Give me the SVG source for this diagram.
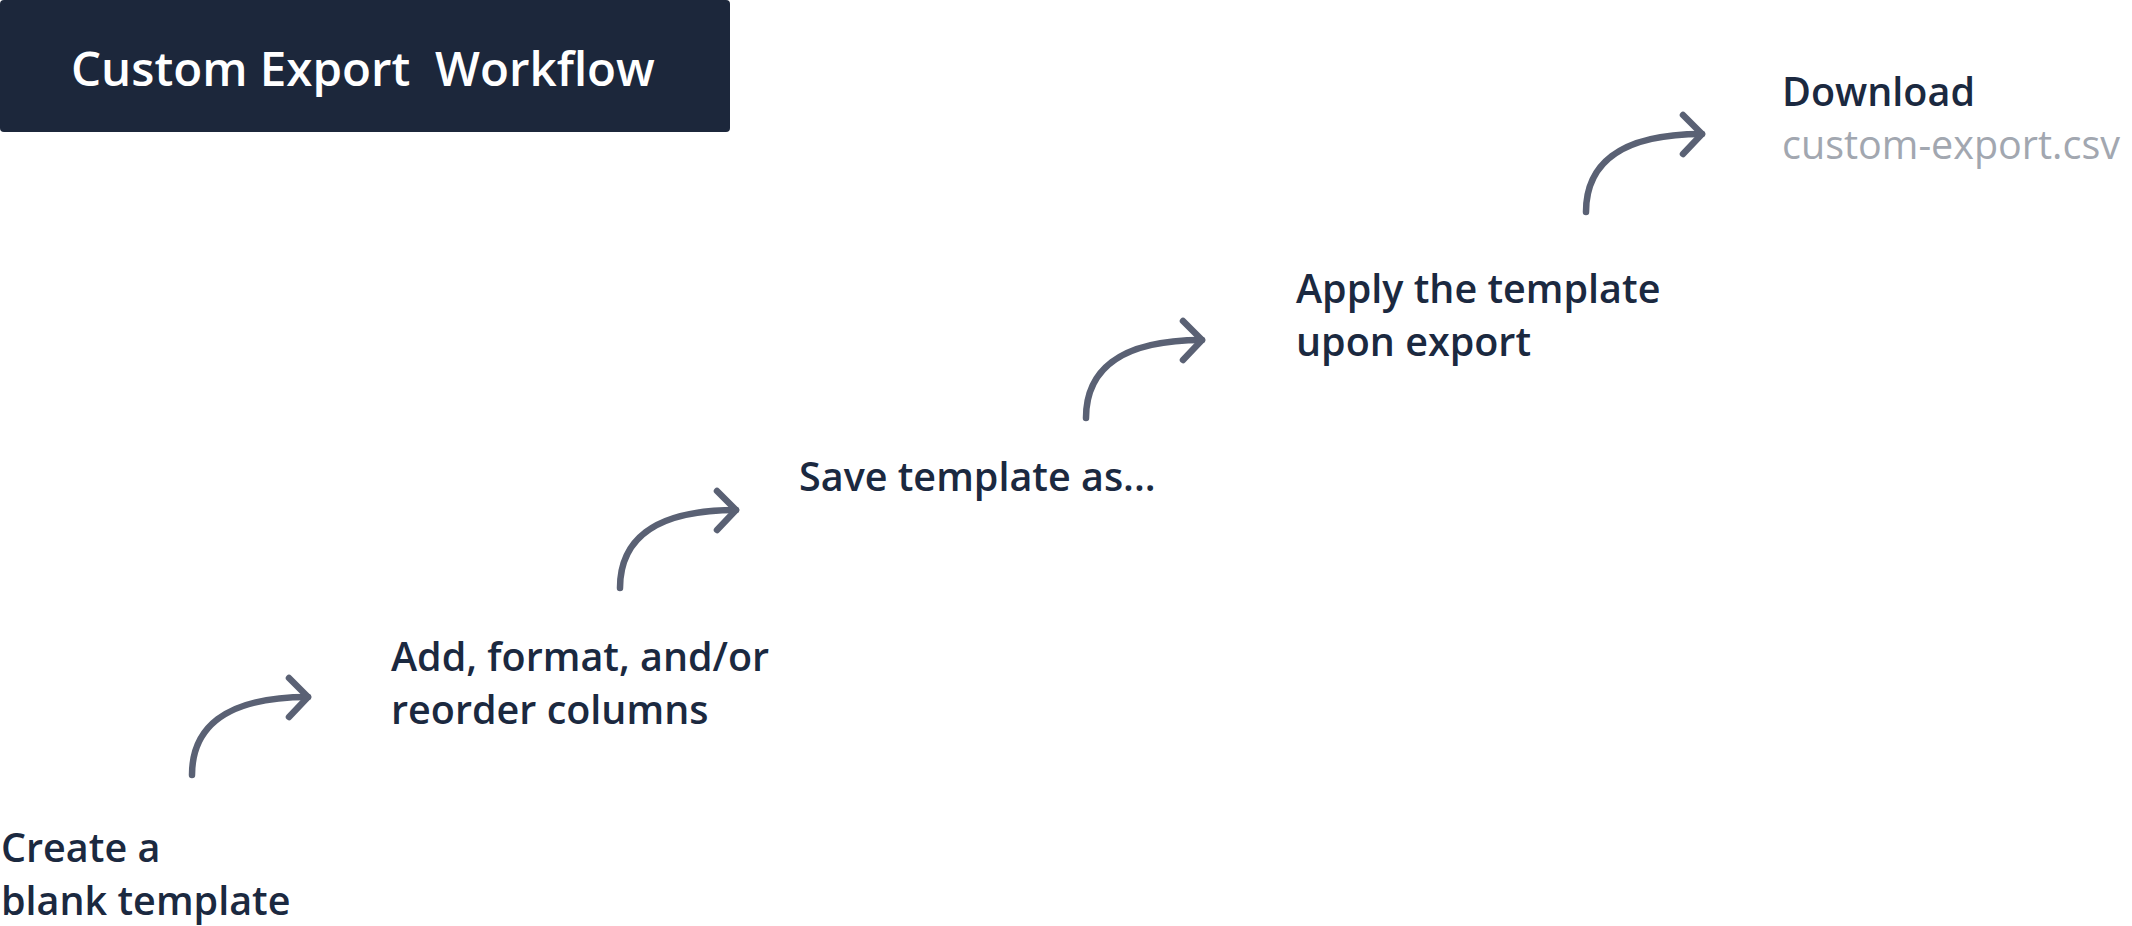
<svg xmlns="http://www.w3.org/2000/svg" width="2132" height="926" viewBox="0 0 2132 926">
  <style>
    .label { font-family: "Open Sans", "Noto Sans", "Liberation Sans", sans-serif; font-size: 39.5px; font-weight: 600; fill: #1b2940; }
    .muted { font-weight: 500; fill: #a2a7b0; }
    .title { font-family: "Open Sans", "Noto Sans", "Liberation Sans", sans-serif; font-size: 47.5px; font-weight: 600; fill: #ffffff; }
    .arrow { fill: none; stroke: #5a6174; stroke-width: 6.5; stroke-linecap: round; stroke-linejoin: round; }
  </style>
  <defs>
    <!-- curved step arrow, origin at the tail -->
    <g id="step-arrow">
      <path class="arrow" d="M0,0 C0,-45 30,-78 116,-78"/>
      <path class="arrow" d="M97,-97 L116,-78 L97,-58"/>
    </g>
  </defs>
  <rect width="2132" height="926" fill="#ffffff"/>

  <g id="title">
    <rect x="0" y="0" width="730" height="132" rx="4" fill="#1c273b"/>
    <text class="title" x="71" y="86" xml:space="preserve">Custom Export  Workflow</text>
  </g>

  <g id="connectors">
    <use href="#step-arrow" x="192" y="775"/>
    <use href="#step-arrow" x="620" y="588"/>
    <use href="#step-arrow" x="1086" y="418"/>
    <use href="#step-arrow" x="1586" y="212"/>
  </g>

  <g id="step-create">
    <text class="label" x="1" y="862">Create a</text>
    <text class="label" x="1" y="915">blank template</text>
  </g>
  <g id="step-columns">
    <text class="label" x="391" y="671">Add, format, and/or</text>
    <text class="label" x="391" y="724">reorder columns</text>
  </g>
  <g id="step-save">
    <text class="label" x="799" y="491">Save template as...</text>
  </g>
  <g id="step-apply">
    <text class="label" x="1296" y="303">Apply the template</text>
    <text class="label" x="1296" y="356">upon export</text>
  </g>
  <g id="step-download">
    <text class="label" x="1782" y="106">Download</text>
    <text class="label muted" x="1782" y="159">custom-export.csv</text>
  </g>
</svg>
